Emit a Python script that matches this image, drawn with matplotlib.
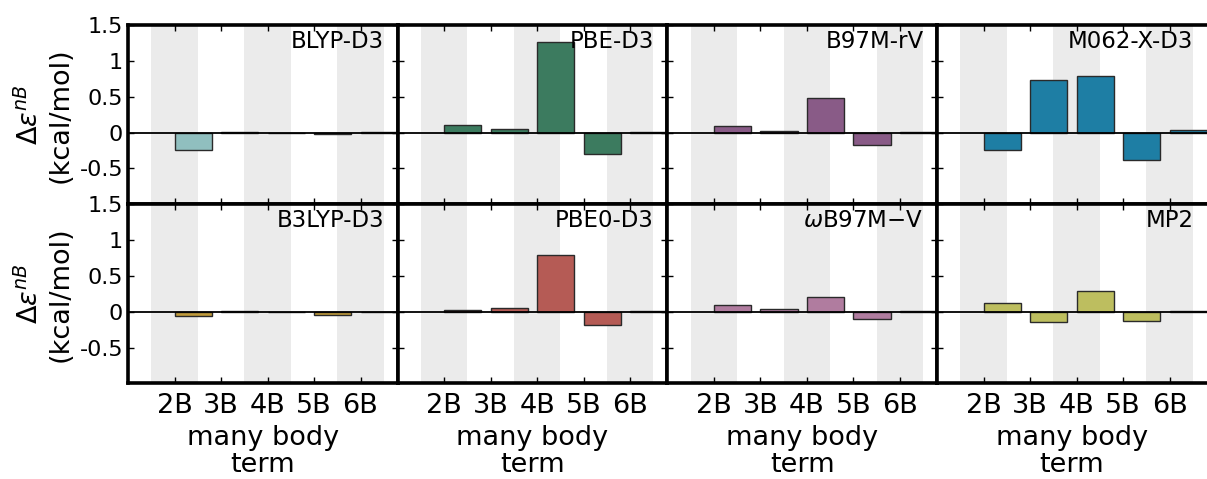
import numpy as np
import matplotlib
matplotlib.use('Agg')
import matplotlib.pyplot as plt

terms = ['2B', '3B', '4B', '5B', '6B']
methods = ['BLYP-D3', 'PBE-D3', 'B97M-rV', 'M062-X-D3',
           'B3LYP-D3', 'PBE0-D3', r'$\omega$B97M$-$V', 'MP2']

blyp_d3 = [-0.245, 0.01, -0.01, -0.015, 0.003]
pbe_d3 = [0.10, 0.055, 1.27, -0.30, 0.01]
b97m_rv = [0.097, 0.028, 0.486, -0.17, 0.005]
m062x_d3 = [-0.236, 0.73, 0.79, -0.375, 0.03]
b3lyp_d3 = [-0.065, 0.01, -0.01, -0.04, 0.002]
pbe0_d3 = [0.025, 0.045, 0.79, -0.185, 0.015]
wb97m_v = [0.088, 0.04, 0.21, -0.105, 0.005]
mp2 = [0.116, -0.148, 0.288, -0.125, 0.01]
values = [blyp_d3, pbe_d3, b97m_rv, m062x_d3, b3lyp_d3, pbe0_d3, wb97m_v, mp2]

colors = ['#90bfbf', '#3c7b5f', '#895b87', '#1e7ea4',
          '#c09a3a', '#b55b55', '#b07c9f', '#bdbe5f']

yticks = [-0.5, 0, 0.5, 1, 1.5]
yticklabels = ['-0.5', '0', '0.5', '1', '1.5']

x = np.arange(1, len(terms) + 1)

fig = plt.figure(figsize=(12.07, 4.79), dpi=100)

W, H = 1207.0, 479.0
left0 = 128 / W
w = 269.7 / W
h = 179.2 / H
bottoms = [(H - 204.3) / H, (H - 383.4) / H]

for k in range(len(methods)):
    row, col = divmod(k, 4)
    ax = fig.add_axes([left0 + col * w, bottoms[row], w, h])
    for c in x[::2]:
        ax.axvspan(c - 0.5, c + 0.5, color='#ebebeb', lw=0, zorder=0)
    ax.bar(x, values[k], width=0.8, align='edge', color=colors[k],
           edgecolor='#2a2a2a', linewidth=1, zorder=2)
    ax.axhline(0, color='k', lw=1.3, zorder=3)
    ax.set_xlim(0, 5.8)
    ax.set_ylim(-1, 1.5)
    ax.set_xticks(x)
    ax.set_yticks(yticks)
    ax.tick_params(direction='in', top=True, right=True, length=4, width=1)
    ax.tick_params(axis='y', pad=3.5)
    ax.tick_params(axis='x', pad=7)
    for s in ax.spines.values():
        s.set_linewidth(2.6)
    # last column runs off the right edge of the picture
    if col == 3:
        ax.spines['right'].set_visible(False)
        ax.tick_params(right=False)
    ax.text(0.95, 0.875, methods[k], transform=ax.transAxes, ha='right',
            va='baseline', fontsize=16.5, zorder=5)
    if col == 0:
        ax.set_yticklabels(yticklabels, fontsize=16)
        ax.set_ylabel('$\\Delta\\varepsilon^{nB}$\n(kcal/mol)', fontsize=19.5, labelpad=4)
    else:
        ax.set_yticklabels([])
    if row == 1:
        ax.set_xticklabels(terms, fontsize=19.5)
        ax.set_xlabel('many body\nterm', fontsize=19.5, labelpad=4, linespacing=1.05)
    else:
        ax.set_xticklabels([])

fig.savefig('out.png', dpi=100)
